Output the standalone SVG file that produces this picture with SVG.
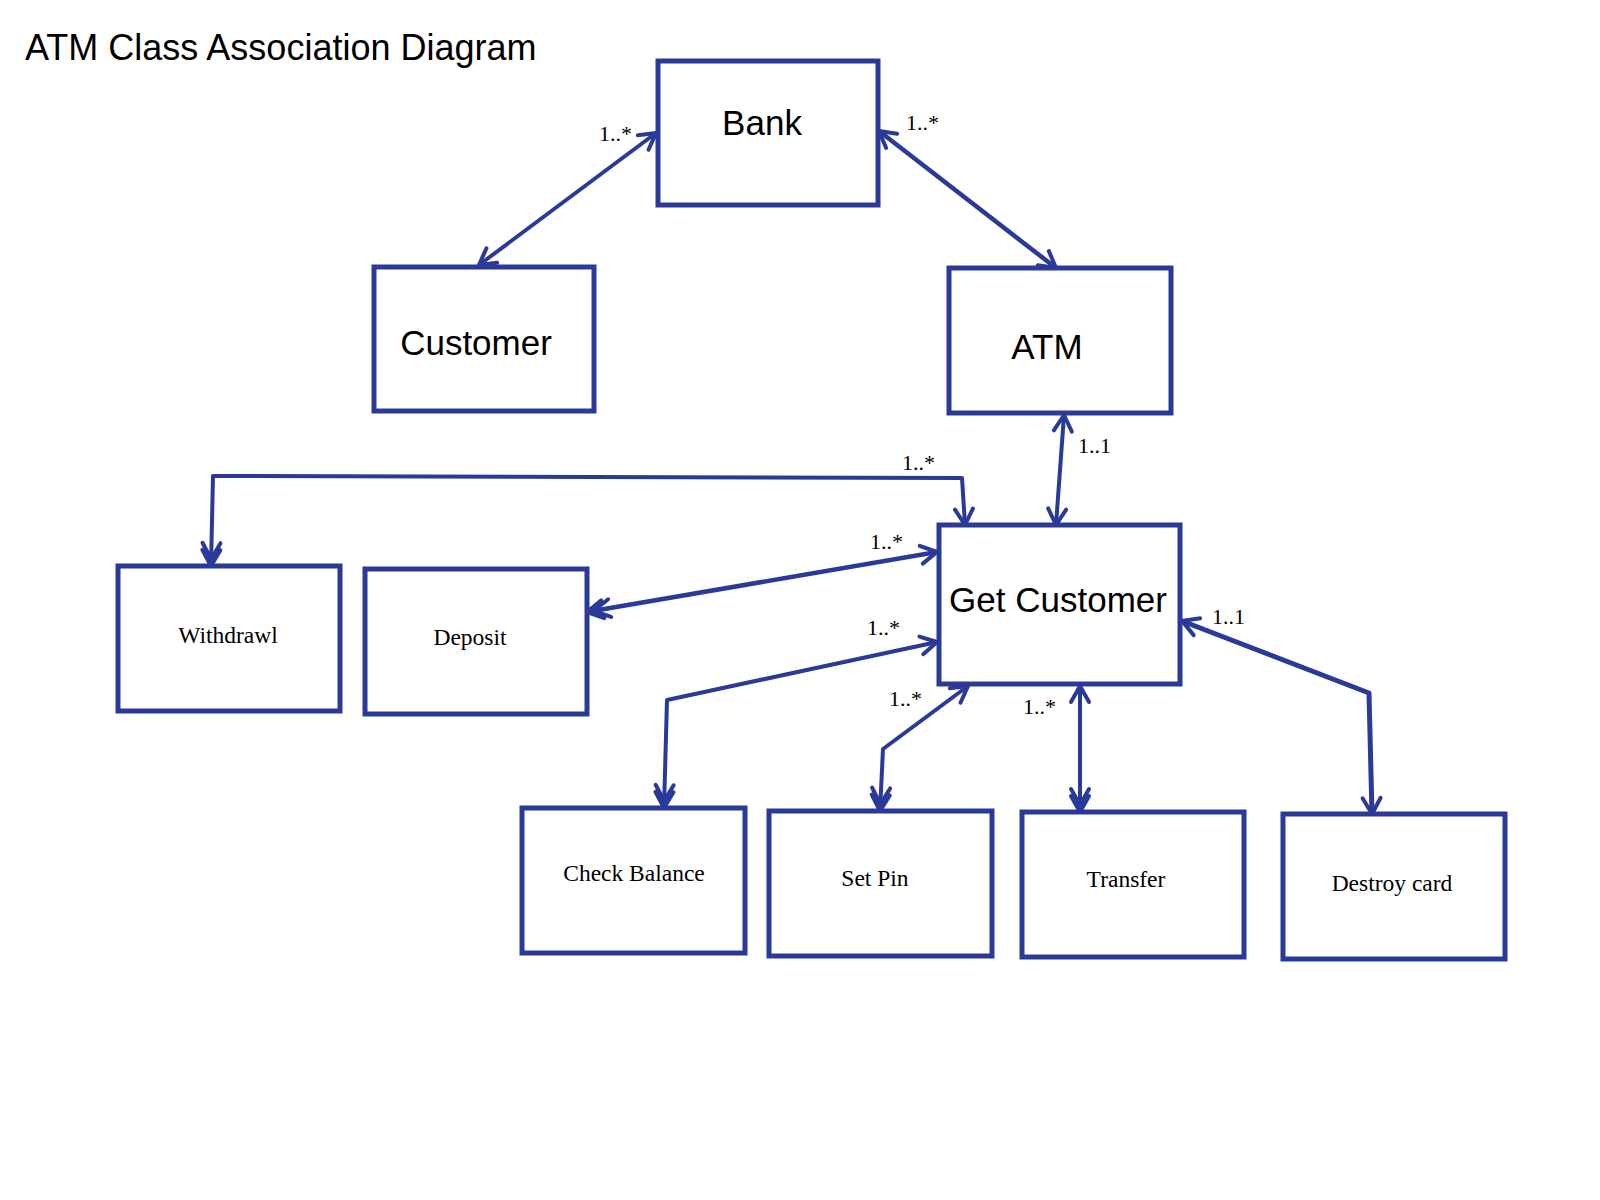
<svg xmlns="http://www.w3.org/2000/svg" width="1600" height="1200" viewBox="0 0 1600 1200">
<style>
.box{fill:#fff;stroke:#2B3A98;stroke-width:5;stroke-linejoin:miter}
.ln{fill:none;stroke:#2B3A98;stroke-width:4;stroke-linejoin:round;stroke-linecap:round}
.big{font-family:"Liberation Sans",Arial,sans-serif;font-size:35px;fill:#000;text-anchor:middle}
.sm{font-family:"Liberation Serif","Times New Roman",serif;font-size:23.5px;fill:#000;text-anchor:middle}
.mul{font-family:"Liberation Serif","Times New Roman",serif;font-size:22px;fill:#000}
.title{font-family:"Liberation Sans",Arial,sans-serif;font-size:36px;fill:#000}
</style>
<defs>
<marker id="v" markerUnits="userSpaceOnUse" markerWidth="40" markerHeight="40" viewBox="-30 -20 40 40" refX="0" refY="0" orient="auto-start-reverse" overflow="visible">
<path d="M-16,-9 L0,0 L-16,9" fill="none" stroke="#2B3A98" stroke-width="4" stroke-linecap="round" stroke-linejoin="round"/>
</marker>
<marker id="vv" markerUnits="userSpaceOnUse" markerWidth="40" markerHeight="40" viewBox="-30 -20 40 40" refX="0" refY="0" orient="auto-start-reverse" overflow="visible">
<path d="M-16,-9 L0,0 L-16,9 M-23,-9 L-7,0 L-23,9" fill="none" stroke="#2B3A98" stroke-width="4" stroke-linecap="round" stroke-linejoin="round"/>
</marker>
</defs>
<rect width="1600" height="1200" fill="#fff"/>
<text class="title" x="25" y="60">ATM Class Association Diagram</text>

<g id="connectors">
<path class="ln" d="M656,133 L479,265" marker-start="url(#v)" marker-end="url(#v)"/>
<path class="ln" d="M879,131 L1056,268" marker-start="url(#v)" marker-end="url(#v)" style="stroke-width:4.5"/>
<path class="ln" d="M1064,415 L1056,525" marker-start="url(#v)" marker-end="url(#v)"/>
<path class="ln" d="M965,525 L962,478 L213,476 L211,566" marker-start="url(#v)" marker-end="url(#vv)"/>
<path class="ln" d="M937,552 L587,612" marker-start="url(#v)" marker-end="url(#vv)" style="stroke-width:4.5"/>
<path class="ln" d="M937,642 L667,700 L664,808" marker-start="url(#v)" marker-end="url(#vv)"/>
<path class="ln" d="M968,686 L883,749 L880,811" marker-start="url(#v)" marker-end="url(#vv)"/>
<path class="ln" d="M1080,686 L1080,812" marker-start="url(#v)" marker-end="url(#vv)"/>
<path class="ln" d="M1182,621 L1369,693 L1372,814" marker-start="url(#v)" marker-end="url(#v)" style="stroke-width:5"/>
<text class="mul" x="599" y="141">1..*</text>
<text class="mul" x="906" y="130">1..*</text>
<text class="mul" x="1078" y="453">1..1</text>
<text class="mul" x="902" y="470">1..*</text>
<text class="mul" x="870" y="549">1..*</text>
<text class="mul" x="867" y="635">1..*</text>
<text class="mul" x="1212" y="624">1..1</text>
<text class="mul" x="889" y="706">1..*</text>
<text class="mul" x="1023" y="714">1..*</text>
</g>

<g id="bank"><rect class="box" x="658" y="61" width="220" height="144"/><text class="big" x="762" y="135">Bank</text></g>
<g id="customer"><rect class="box" x="374" y="267" width="220" height="144"/><text class="big" x="476" y="355">Customer</text></g>
<g id="atm"><rect class="box" x="949" y="268" width="222" height="145"/><text class="big" x="1047" y="359">ATM</text></g>
<g id="get-customer"><rect class="box" x="939" y="525" width="241" height="159"/><text class="big" x="1058" y="612">Get Customer</text></g>
<g id="withdrawl"><rect class="box" x="118" y="566" width="222" height="145"/><text class="sm" x="228" y="643">Withdrawl</text></g>
<g id="deposit"><rect class="box" x="365" y="569" width="222" height="145"/><text class="sm" x="470" y="645">Deposit</text></g>
<g id="check-balance"><rect class="box" x="522" y="808" width="223" height="145"/><text class="sm" x="634" y="881">Check Balance</text></g>
<g id="set-pin"><rect class="box" x="769" y="811" width="223" height="145"/><text class="sm" x="875" y="886">Set Pin</text></g>
<g id="transfer"><rect class="box" x="1022" y="812" width="222" height="145"/><text class="sm" x="1126" y="887">Transfer</text></g>
<g id="destroy-card"><rect class="box" x="1283" y="814" width="222" height="145"/><text class="sm" x="1392" y="891">Destroy card</text></g>
</svg>
